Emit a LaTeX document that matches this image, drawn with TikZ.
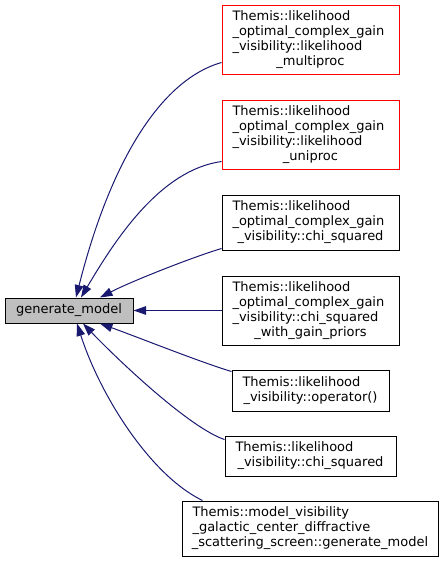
\documentclass[tikz,border=0pt]{standalone}
\usepackage{fontspec}
\setmainfont{DejaVu Sans}
\usetikzlibrary{arrows.meta,calc}
\definecolor{edgeblue}{HTML}{191970}
\definecolor{mainfill}{HTML}{BFBFBF}
\newcommand{\lft}[1]{{\parskip=0pt\leftskip=10.5pt\rightskip=0pt plus 1fil\parfillskip=0pt plus 1fil\noindent #1\par}}
\newcommand{\ctr}[1]{{\parskip=0pt\leftskip=0pt plus 1fil\rightskip=0pt plus 1fil\parfillskip=0pt\noindent #1\par}}
\begin{document}
\begin{tikzpicture}[x=1pt,y=-1pt,
  every node/.style={font=\fontsize{13}{15}\selectfont, text=black},
  fnbox/.style={draw=black, line width=1pt, inner sep=0pt, text width=#1, minimum width=#1},
  redbox/.style={fnbox=#1, draw=red},
  mainbox/.style={draw=black, fill=mainfill, line width=1pt, inner sep=0pt, minimum width=128pt, minimum height=25pt},
  edge/.style={draw=edgeblue, line width=1pt, -{Triangle[length=12.5pt,width=8.5pt]}}]
\useasboundingbox (0,0) rectangle (445,563);

\node[mainbox] (main) at (69,310.5) {generate\_model};

\node[redbox=177pt, minimum height=69pt] (b1) at (310.5,39.5)
  {\lft{Themis::likelihood\\\_optimal\_complex\_gain\\\_visibility::likelihood}\ctr{\_multiproc}};
\node[redbox=177pt, minimum height=69pt] (b2) at (310.5,134.5)
  {\lft{Themis::likelihood\\\_optimal\_complex\_gain\\\_visibility::likelihood}\ctr{\_uniproc}};
\node[fnbox=177pt, minimum height=55pt] (b3) at (310.5,222.5)
  {\lft{Themis::likelihood\\\_optimal\_complex\_gain}\ctr{\_visibility::chi\_squared}};
\node[fnbox=177pt, minimum height=69pt] (b4) at (310.5,310.5)
  {\lft{Themis::likelihood\\\_optimal\_complex\_gain\\\_visibility::chi\_squared}\ctr{\_with\_gain\_priors}};
\node[fnbox=157pt, minimum height=41pt] (b5) at (310.5,390.5)
  {\lft{Themis::likelihood}\ctr{\_visibility::operator()}};
\node[fnbox=171pt, minimum height=40pt] (b6) at (310.5,456)
  {\lft{Themis::likelihood}\ctr{\_visibility::chi\_squared}};
\node[fnbox=256pt, minimum height=55pt] (b7) at (310,528.5)
  {\lft{Themis::model\_visibility\\\_galactic\_center\_diffractive}\ctr{\_scattering\_screen::generate\_model}};

\draw[edge] ($(b1.south west)+(0,-12)$) .. controls (160,80) and (110,163) .. ($(main.north)+(7,0)$);
\draw[edge] ($(b2.south west)+(0,-8)$) .. controls (160,170) and (115,240) .. ($(main.north)+(12,0)$);
\draw[edge] ($(b3.south west)+(0,-2)$) .. controls (190,258) and (130,282) .. ($(main.north)+(31,0)$);
\draw[edge] (b4.west) -- (main.east);
\draw[edge] ($(b5.north west)+(0,2)$) .. controls (200,362) and (140,338) .. ($(main.south)+(31,0)$);
\draw[edge] ($(b6.north west)+(0,4)$) .. controls (190,428) and (120,362) .. ($(main.south)+(14,0)$);
\draw[edge] ($(b7.north west)+(21,0)$) .. controls (150,475) and (100,395) .. ($(main.south)+(8,0)$);
\end{tikzpicture}
\end{document}
